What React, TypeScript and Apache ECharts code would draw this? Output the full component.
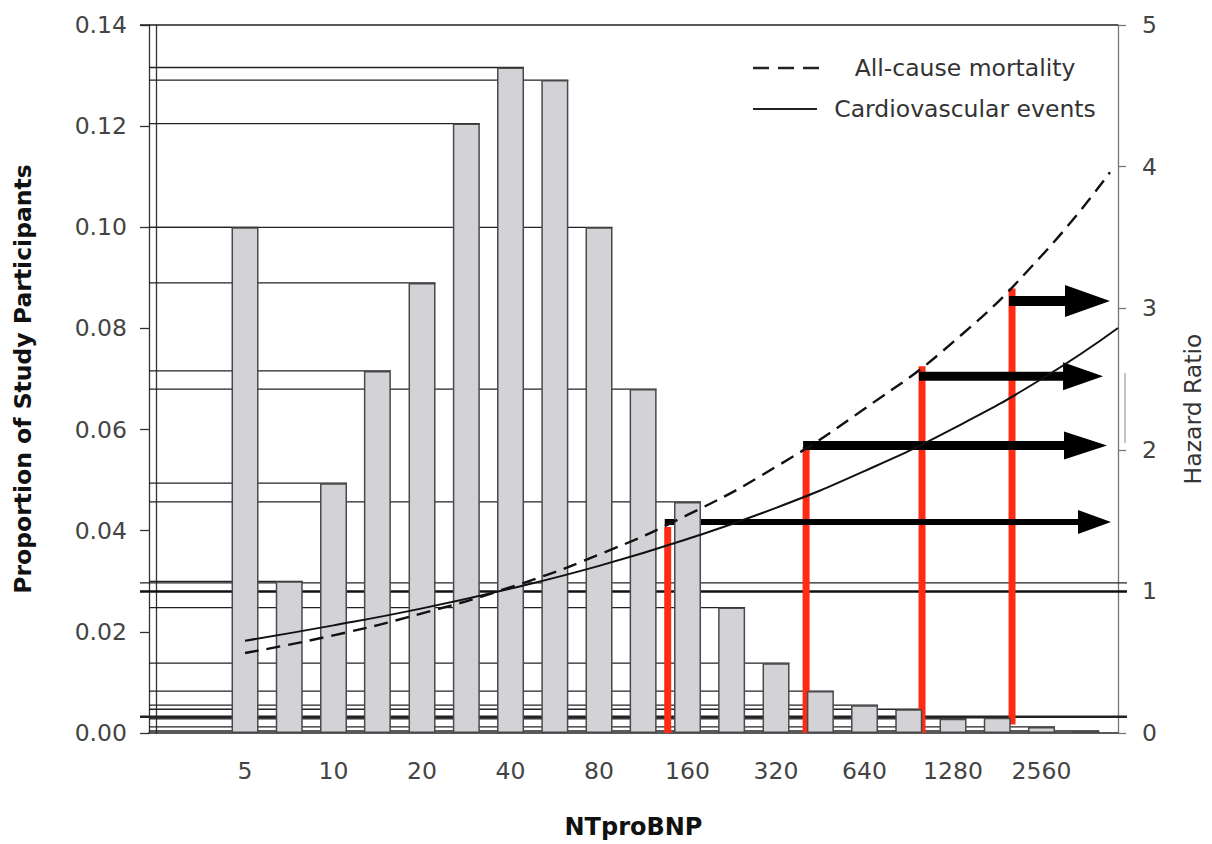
import React, { useEffect, useRef } from "react";
import * as echarts from "echarts";

// ---- data ----
const binCenters = [5, 7.07, 10, 14.1, 20, 28.3, 40, 56.6, 80, 113, 160, 226, 320, 453, 640, 905, 1280, 1810, 2560, 3620];
const proportions = [0.1, 0.03, 0.0494, 0.0716, 0.089, 0.1205, 0.1316, 0.1291, 0.1, 0.068, 0.0457, 0.0248, 0.0138, 0.0083, 0.0055, 0.0047, 0.0028, 0.003, 0.0012, 0.0004];
const tickLabels = [5, 10, 20, 40, 80, 160, 320, 640, 1280, 2560];

const mortalityNT = [5, 10, 20, 40, 80, 160, 320, 640, 1280, 2560, 4377];
const mortalityHR = [0.565, 0.69, 0.845, 1.03, 1.26, 1.54, 1.88, 2.29, 2.76, 3.37, 3.96];
const cvNT = [5, 10, 20, 40, 80, 160, 320, 640, 1280, 2560, 4660];
const cvHR = [0.652, 0.76, 0.88, 1.02, 1.18, 1.37, 1.59, 1.85, 2.15, 2.5, 2.86];

const cutoffNT = [137, 405, 1004, 2032];
const cutoffLowHR = [0, 0, 0, 0.06];
const cutoffHighHR = [1.455, 2.02, 2.59, 3.14];
const arrowHR = [1.49, 2.03, 2.52, 3.05];
const arrowTipNT = [4412, 4276, 4145, 4377];

const fullWidthProportions = [0.14, 0.0297, 0.0032];
const referenceHR = [1];

// ---- styles ----
const FONT = "DejaVu Sans";
const arrowShaft = [6, 9, 9, 10];
const arrowHeadLen = [33, 43, 40, 45];
const arrowHeadWidth = [24, 28, 28, 32];
const fullWidthLineWidths = [1.5, 1.2, 2.4];
const BAR_W = 27;

const lx = (v: number) => Math.log2(v);
const X_MIN = 1.237;
const X_MAX = 12.186;

export default function App() {
  const ref = useRef<HTMLDivElement>(null);
  useEffect(() => {
    const chart = echarts.init(ref.current!, null, { renderer: "svg" });
    const option: any = {
      animation: false,
      backgroundColor: "#ffffff",
      textStyle: { fontFamily: FONT },
      grid: { left: 149, right: 94, top: 25, bottom: 111 },
      xAxis: {
        type: "value",
        min: X_MIN,
        max: X_MAX,
        axisLine: { show: true, lineStyle: { color: "#222", width: 1.5 } },
        axisTick: { show: false },
        splitLine: { show: false },
        axisLabel: {
          customValues: tickLabels.map(lx),
          formatter: (v: number) => String(Math.round(Math.pow(2, v))),
          fontSize: 23.5,
          color: "#444",
          margin: 26,
          fontFamily: FONT,
        },
        name: "NTproBNP",
        nameLocation: "middle",
        nameGap: 82,
        nameTextStyle: { fontSize: 24, fontWeight: "bold", color: "#111", fontFamily: FONT },
      },
      yAxis: [
        {
          type: "value",
          position: "left",
          min: 0,
          max: 0.14,
          interval: 0.02,
          axisLine: { show: true, lineStyle: { color: "#333", width: 1.3 } },
          axisTick: { show: true, length: 9, lineStyle: { color: "#333", width: 1.3 } },
          splitLine: { show: false },
          axisLabel: {
            formatter: (v: number) => v.toFixed(2),
            fontSize: 23.5,
            color: "#444",
            margin: 22,
            fontFamily: FONT,
          },
          name: "Proportion of Study Participants",
          nameLocation: "middle",
          nameGap: 114,
          nameTextStyle: { fontSize: 23.5, fontWeight: "bold", color: "#111", fontFamily: FONT },
        },
        {
          type: "value",
          position: "right",
          min: 0,
          max: 5,
          interval: 1,
          axisLine: { show: true, lineStyle: { color: "#777", width: 1.3 } },
          axisTick: { show: true, length: 8, lineStyle: { color: "#777", width: 1.3 } },
          splitLine: { show: false },
          axisLabel: { fontSize: 23.5, color: "#444", margin: 24, fontFamily: FONT },
        },
        {
          type: "value",
          position: "left",
          offset: -7,
          min: 0,
          max: 0.14,
          axisLine: { show: true, lineStyle: { color: "#333", width: 1.3 } },
          axisTick: { show: false },
          axisLabel: { show: false },
          splitLine: { show: false },
        },
      ],
      series: [
        {
          type: "bar",
          xAxisIndex: 0,
          yAxisIndex: 0,
          barWidth: BAR_W,
          data: binCenters.map((c, i) => [lx(c), proportions[i]]),
          itemStyle: { color: "#d3d3d7", borderColor: "#4a4a4a", borderWidth: 1.5 },
        },
        {
          type: "custom",
          xAxisIndex: 0,
          yAxisIndex: 0,
          data: binCenters.map((c, i) => [lx(c), proportions[i]]),
          renderItem: (params: any, api: any) => {
            const p = api.coord([api.value(0), api.value(1)]);
            return {
              type: "line",
              shape: { x1: params.coordSys.x, y1: p[1], x2: p[0] + BAR_W / 2, y2: p[1] },
              style: { stroke: "#222", lineWidth: 1.3 },
            };
          },
        },
        {
          type: "custom",
          xAxisIndex: 0,
          yAxisIndex: 0,
          data: fullWidthProportions.map((v) => [X_MIN, v]),
          renderItem: (params: any, api: any) => {
            const p = api.coord([api.value(0), api.value(1)]);
            const cs = params.coordSys;
            return {
              type: "line",
              shape: { x1: cs.x - 9, y1: p[1], x2: cs.x + cs.width + (params.dataIndex === 0 ? 0 : 9), y2: p[1] },
              style: { stroke: "#222", lineWidth: fullWidthLineWidths[params.dataIndex] },
            };
          },
        },
        {
          type: "custom",
          xAxisIndex: 0,
          yAxisIndex: 1,
          data: referenceHR.map((v) => [X_MIN, v]),
          renderItem: (params: any, api: any) => {
            const p = api.coord([api.value(0), api.value(1)]);
            const cs = params.coordSys;
            return {
              type: "line",
              shape: { x1: cs.x - 9, y1: p[1], x2: cs.x + cs.width + 9, y2: p[1] },
              style: { stroke: "#111", lineWidth: 2.5 },
            };
          },
        },
        {
          type: "line",
          name: "All-cause mortality",
          xAxisIndex: 0,
          yAxisIndex: 1,
          data: mortalityNT.map((n, i) => [lx(n), mortalityHR[i]]),
          showSymbol: false,
          smooth: 0.5,
          lineStyle: { color: "#111", width: 2.4, type: [14, 8] },
        },
        {
          type: "line",
          name: "Cardiovascular events",
          xAxisIndex: 0,
          yAxisIndex: 1,
          data: cvNT.map((n, i) => [lx(n), cvHR[i]]),
          showSymbol: false,
          smooth: 0.5,
          lineStyle: { color: "#111", width: 2 },
        },
        {
          type: "custom",
          xAxisIndex: 0,
          yAxisIndex: 1,
          data: cutoffNT.map((n, i) => [lx(n), cutoffLowHR[i], cutoffHighHR[i]]),
          renderItem: (params: any, api: any) => {
            const a = api.coord([api.value(0), api.value(1)]);
            const b = api.coord([api.value(0), api.value(2)]);
            return {
              type: "line",
              shape: { x1: a[0], y1: a[1], x2: b[0], y2: b[1] },
              style: { stroke: "#ff2b14", lineWidth: 7 },
            };
          },
        },
        {
          type: "custom",
          xAxisIndex: 0,
          yAxisIndex: 1,
          data: cutoffNT.map((n, i) => [lx(n), lx(arrowTipNT[i]), arrowHR[i]]),
          renderItem: (params: any, api: any) => {
            const i = params.dataIndex;
            const s = api.coord([api.value(0), api.value(2)]);
            const t = api.coord([api.value(1), api.value(2)]);
            const hl = arrowHeadLen[i];
            const hw = arrowHeadWidth[i];
            const sw = arrowShaft[i];
            return {
              type: "group",
              children: [
                {
                  type: "rect",
                  shape: { x: s[0] - 3, y: s[1] - sw / 2, width: t[0] - hl - s[0] + 4, height: sw },
                  style: { fill: "#000" },
                },
                {
                  type: "polygon",
                  shape: { points: [[t[0] - hl, t[1] - hw / 2], [t[0], t[1]], [t[0] - hl, t[1] + hw / 2]] },
                  style: { fill: "#000" },
                },
              ],
            };
          },
        },
      ],
      graphic: [
        {
          type: "line",
          shape: { x1: 753, y1: 68, x2: 827, y2: 68 },
          style: { stroke: "#222", lineWidth: 2.5, lineDash: [16, 9] },
        },
        {
          type: "text",
          x: 965,
          y: 68,
          style: { text: "All-cause mortality", fontSize: 23.5, fill: "#333", align: "center", verticalAlign: "middle", fontFamily: FONT },
        },
        {
          type: "line",
          shape: { x1: 753, y1: 109, x2: 817, y2: 109 },
          style: { stroke: "#222", lineWidth: 2.2 },
        },
        {
          type: "text",
          x: 965,
          y: 109,
          style: { text: "Cardiovascular events", fontSize: 23.5, fill: "#333", align: "center", verticalAlign: "middle", fontFamily: FONT },
        },
        {
          type: "text",
          x: 1193,
          y: 409,
          rotation: Math.PI / 2,
          style: { text: "Hazard Ratio", fontSize: 23.5, fill: "#333", align: "center", verticalAlign: "middle", fontFamily: FONT },
        },
        {
          type: "line",
          shape: { x1: 1125, y1: 373, x2: 1125, y2: 443 },
          style: { stroke: "#888", lineWidth: 1 },
        },
      ],
    };
    chart.setOption(option);
    return () => chart.dispose();
  }, []);
  return <div ref={ref} style={{ position: "fixed", left: 0, top: 0, width: 1212, height: 844, background: "#fff" }} />;
}
